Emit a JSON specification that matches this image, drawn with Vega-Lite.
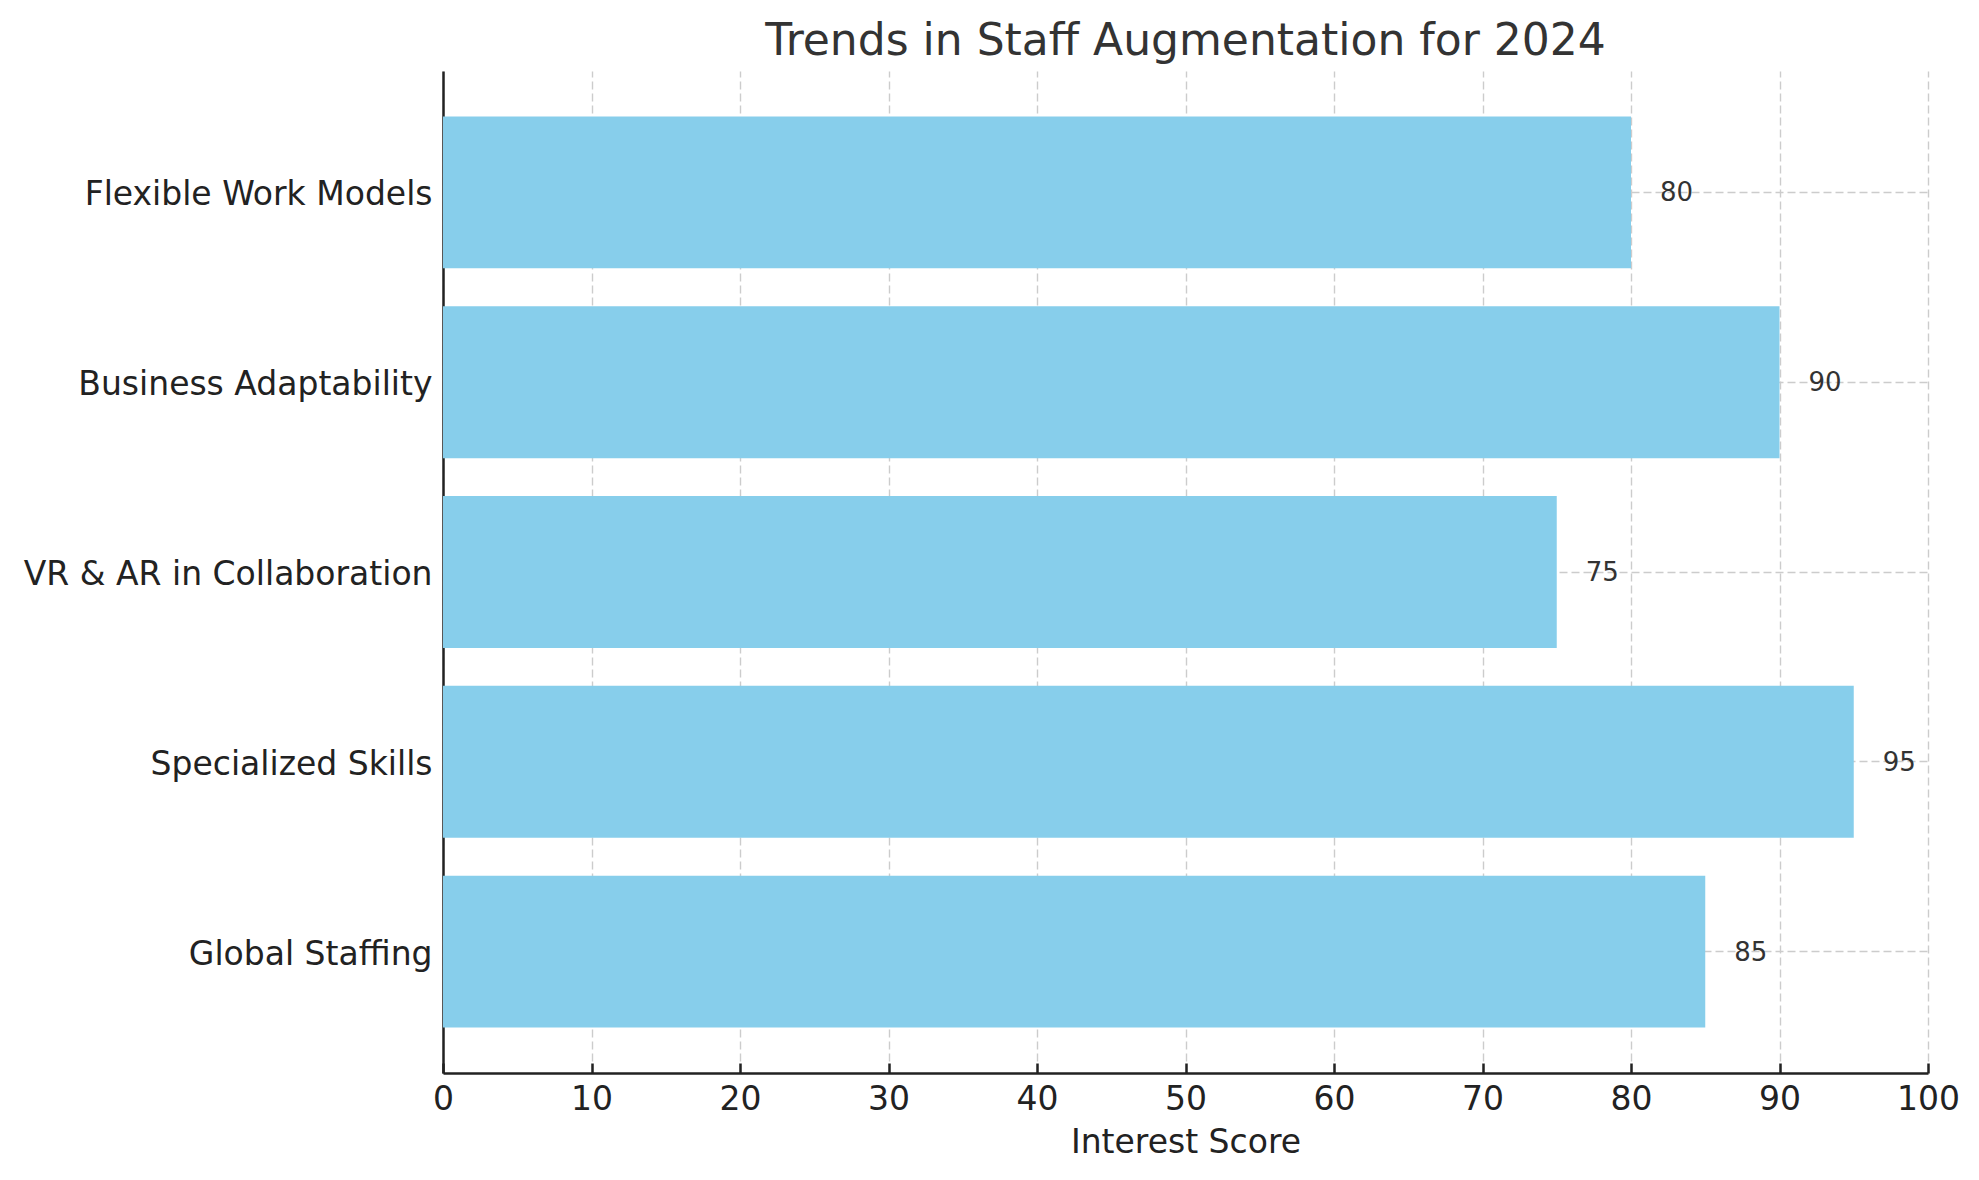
{
  "$schema": "https://vega.github.io/schema/vega-lite/v6.json",
  "width": 1485,
  "height": 1002,
  "autosize": {"type": "none"},
  "padding": {"left": 443, "top": 71, "right": 51, "bottom": 107},
  "background": "white",
  "config": {
    "font": "DejaVu Sans",
    "view": {"stroke": null},
    "axis": {
      "zindex": 1,
      "domainColor": "#222222",
      "domainWidth": 2.5,
      "tickColor": "#222222",
      "tickWidth": 2.5,
      "tickSize": -10,
      "labelFont": "DejaVu Sans",
      "labelFontSize": 33,
      "labelColor": "#222222",
      "titleFont": "DejaVu Sans",
      "titleFontSize": 33,
      "titleFontWeight": "normal",
      "titleColor": "#222222",
      "grid": true,
      "gridColor": "#cccccc",
      "gridDash": [8, 4],
      "gridWidth": 1.4
    }
  },
  "title": {
    "text": "Trends in Staff Augmentation for 2024",
    "font": "DejaVu Sans",
    "fontSize": 44,
    "fontWeight": "normal",
    "color": "#333333",
    "anchor": "middle",
    "baseline": "bottom",
    "offset": -37
  },
  "data": {
    "values": [
      {"trend": "Flexible Work Models", "score": 80},
      {"trend": "Business Adaptability", "score": 90},
      {"trend": "VR & AR in Collaboration", "score": 75},
      {"trend": "Specialized Skills", "score": 95},
      {"trend": "Global Staffing", "score": 85}
    ]
  },
  "encoding": {
    "y": {
      "field": "trend",
      "type": "nominal",
      "sort": null,
      "title": null,
      "scale": {"paddingInner": 0.2, "paddingOuter": 0.24},
      "axis": {"labelPadding": 21, "labelLimit": 600, "labelOffset": 3}
    },
    "x": {
      "field": "score",
      "type": "quantitative",
      "title": "Interest Score",
      "scale": {"domain": [0, 100], "nice": false},
      "axis": {"values": [0, 10, 20, 30, 40, 50, 60, 70, 80, 90, 100], "labelPadding": 20, "titlePadding": 10, "labelFlush": false}
    }
  },
  "layer": [
    {"mark": {"type": "bar", "color": "#87CEEB"}},
    {
      "mark": {"type": "text", "align": "left", "baseline": "middle", "dx": 29, "dy": 1, "fontSize": 26, "color": "#333333"},
      "encoding": {"text": {"field": "score", "type": "quantitative"}}
    }
  ]
}
